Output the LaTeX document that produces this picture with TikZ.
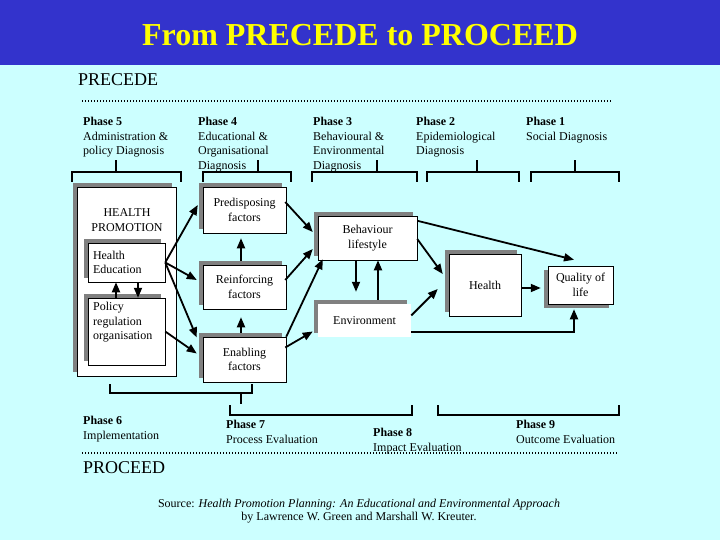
\documentclass[tikz,border=0pt]{standalone}
\usepackage{fontspec}
\setmainfont{Liberation Serif}
\usetikzlibrary{arrows.meta, positioning, calc, shadows}
\definecolor{slidebg}{RGB}{204,255,255}
\definecolor{titlebar}{RGB}{51,51,204}
\definecolor{titletext}{RGB}{255,255,0}

\begin{document}
\begin{tikzpicture}[
    x=1pt, y=-1pt,
    font=\fontsize{12}{14.5}\selectfont,
    boxbase/.style={draw=black, line width=0.5pt, fill=white, align=center, inner sep=0pt},
    box/.style={boxbase, general shadow={fill=gray, shadow xshift=-4pt, shadow yshift=4pt}},
    boxdl/.style={boxbase, general shadow={fill=gray, shadow xshift=-4pt, shadow yshift=-4pt}},
    phase/.style={anchor=north west, align=left, inner sep=0pt},
    big/.style={anchor=west, inner sep=0pt, font=\fontsize{18}{20}\selectfont},
    brk/.style={line width=2pt},
    dots/.style={line width=1.4pt, dash pattern=on 1.4pt off 1.6pt},
    fl/.style={-{Triangle[length=10pt,width=8pt]}, line width=1.8pt}
]
\useasboundingbox (0,0) rectangle (720,540);

% ===== SFONDO E TITOLO =====
\fill[slidebg] (0,0) rectangle (720,540);
\fill[titlebar] (0,0) rectangle (720,65);
\node[font=\fontsize{32}{36}\selectfont\bfseries, text=titletext] (TITLE) at (360,35) {From PRECEDE to PROCEED};

% ===== PRECEDE: fasi 5..1 =====
\node[big] (PRECEDE) at (78,80) {PRECEDE};
\draw[dots] (82,101) -- (612,101);

\node[phase] (PH5) at (83,117) {\textbf{Phase 5}\\Administration \&\\policy Diagnosis};
\node[phase] (PH4) at (198,117) {\textbf{Phase 4}\\Educational \&\\Organisational\\Diagnosis};
\node[phase] (PH3) at (313,117) {\textbf{Phase 3}\\Behavioural \&\\Environmental\\Diagnosis};
\node[phase] (PH2) at (416,117) {\textbf{Phase 2}\\Epidemiological\\Diagnosis};
\node[phase] (PH1) at (526,117) {\textbf{Phase 1}\\Social Diagnosis};

% parentesi sopra le colonne
\foreach \l/\r/\t in {72/181/116, 203/291/258, 312/417/377, 427/519/477, 531/619/575}
  \draw[brk] (\l,182) -- (\l,172) -- (\r,172) -- (\r,182) (\t,172) -- (\t,160);

% ===== HEALTH PROMOTION =====
\node[box, minimum width=99pt, minimum height=189pt] (HP) at (126.5,281.5) {};
\node[inner sep=0pt, align=center] (HPT) at (127,220) {HEALTH\\PROMOTION};
\node[box, minimum width=77pt, minimum height=39pt, text width=67pt, align=left] (HEDU) at (126.5,262.5) {Health\\Education};
\node[box, minimum width=77pt, minimum height=67pt] (POL) at (126.5,331.5) {};
\node[anchor=north west, align=left, inner sep=0pt] (POLT) at (93,302) {Policy\\regulation\\organisation};
\draw[fl] ($(POL.north)+(-10.5,0)$) -- ($(HEDU.south)+(-10.5,0)$);
\draw[fl] ($(HEDU.south)+(11.5,0)$) -- ($(POL.north)+(11.5,0)$);

% ===== FATTORI =====
\node[box, minimum width=83pt, minimum height=46pt] (PRED) at (244.5,210) {Predisposing\\factors};
\node[box, minimum width=83pt, minimum height=44pt] (REIN) at (244.5,287) {Reinforcing\\factors};
\node[box, minimum width=83pt, minimum height=45pt] (ENAB) at (244.5,359.5) {Enabling\\factors};

\draw[fl] (HEDU.east) -- ($(PRED.west)+(-5,-5)$);
\draw[fl] (HEDU.east) -- ($(REIN.west)+(-6,-7)$);
\draw[fl] (HEDU.east) -- ($(ENAB.west)+(-6,-22)$);
\draw[fl] (POL.east) -- ($(ENAB.west)+(-6,-6)$);
\draw[fl] ($(REIN.north)+(-3.5,-4)$) -- ($(PRED.south)+(-3.5,5)$);
\draw[fl] ($(ENAB.north)+(-3.5,-4)$) -- ($(REIN.south)+(-3.5,8)$);

% ===== COMPORTAMENTO / AMBIENTE =====
\node[box, minimum width=99pt, minimum height=44pt] (BEH) at (367.5,238) {Behaviour\\lifestyle};
\node[box, draw=none, minimum width=93pt, minimum height=33pt] (ENV) at (364.5,320.5) {Environment};

\draw[fl] ($(PRED.east)+(-1,-8)$) -- ($(BEH.west)+(-5,-6)$);
\draw[fl] ($(REIN.east)+(-1,-7)$) -- ($(BEH.west)+(-5,11)$);
\draw[fl] (ENAB.north east) -- ($(BEH.south west)+(5,-1)$);
\draw[fl] ($(ENAB.east)+(-1,-12)$) -- ($(ENV.west)+(-5,11)$);
\draw[fl] ($(BEH.south)+(-11.5,0)$) -- ($(ENV.north)+(-8.5,-12)$);
\draw[fl] ($(ENV.north)+(13.5,-4)$) -- ($(BEH.south)+(10.5,0)$);

% ===== SALUTE E QUALITA' DELLA VITA =====
\node[box, minimum width=72pt, minimum height=62pt] (HLTH) at (485,285) {Health};
\node[boxdl, minimum width=65pt, minimum height=38pt] (QOL) at (580.5,285) {Quality of\\life};

\draw[fl] ($(BEH.east)+(0,1)$) -- ($(HLTH.west)+(-6,-11)$);
\draw[fl] ($(ENV.east)+(0,-5)$) -- ($(HLTH.west)+(-11,4)$);
\draw[fl] ($(BEH.north east)+(0,5)$) -- ($(QOL.north)+(-6.5,-6)$);
\draw[fl] ($(ENV.south east)+(0,-5)$) -| ($(QOL.south)+(-6.5,5)$);
\draw[fl] ($(HLTH.east)+(0,3)$) -- ($(QOL.west)+(-7,3)$);

% ===== PROCEED: fasi 6..9 =====
\draw[brk] (110,384) -- (110,393) -- (252,393) -- (252,384) (241,393) -- (241,404);
\draw[brk] (230,405) -- (230,415) -- (412,415) -- (412,405);
\draw[brk] (438,405) -- (438,415) -- (619,415) -- (619,405);

\node[phase] (PH6) at (83,416) {\textbf{Phase 6}\\Implementation};
\node[phase] (PH7) at (226,420) {\textbf{Phase 7}\\Process Evaluation};
\node[phase] (PH8) at (373,428) {\textbf{Phase 8}\\Impact Evaluation};
\node[phase] (PH9) at (516,420) {\textbf{Phase 9}\\Outcome Evaluation};

\draw[dots] (82,453) -- (618,453);
\node[big] (PROCEED) at (83,468) {PROCEED};

% ===== FONTE =====
\node[font=\fontsize{12}{12.5}\selectfont, align=center, inner sep=0pt] (SRC) at (359,511)
  {Source: \textit{Health Promotion Planning: An Educational and Environmental Approach}\\
   by Lawrence W. Green and Marshall W. Kreuter.};

\end{tikzpicture}
\end{document}
